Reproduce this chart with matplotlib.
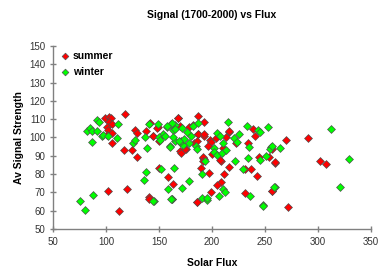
import matplotlib
matplotlib.use("Agg")
import matplotlib.pyplot as plt

plt.rcParams.update({
    "font.family": ["Liberation Sans", "DejaVu Sans"],
    "font.size": 7,
})

# summer points (solar flux, average signal)
summer_flux = [117.9, 99, 102.8, 104.4, 103, 105.3, 100.6, 102.2, 105.3, 101, 106,
               117, 124.2, 129.6, 127.4, 129, 137.7, 144, 148.8, 150, 150.3, 158.8,
               162.9, 102.2, 120, 140.9, 140.9, 112, 168, 167.6, 186.8, 192.7, 169.8,
               178.3, 187, 192.7, 216.3, 213.2, 203.8, 198, 199, 196.5, 183, 186,
               175.5, 169.8, 210.7, 222.6, 233.7, 238.9, 240.6, 191.8, 192.3, 208.2,
               244.6, 254, 259.4, 189.3, 216, 230.8, 236.8, 197.5, 211.6, 242.2,
               208.5, 204.4, 199, 231.1, 256.3, 186.2, 290.8, 269.8, 257, 259.4,
               301.9, 307.3, 256.3, 272, 141.5, 148.4, 144, 169.8, 174.5, 170.5,
               186.5, 192.5, 199.7, 191.2, 191.6, 207.5, 216.3, 181.8, 185.6]
summer_signal = [112.7, 110.5, 111.4, 110.5, 108.6, 107.2, 105.9, 104.1, 102.3, 101.5, 96.8,
                 93.2, 93.2, 89.2, 104.1, 102.3, 103.7, 101, 105.9, 97.9, 83.2, 78.3,
                 74.6, 70.8, 71.9, 67.7, 66.2, 60, 110.5, 110.5, 111.7, 108.3, 106.3,
                 105.9, 101.8, 100.8, 103, 100.4, 99.6, 98.6, 97.4, 95.4, 96.8, 98,
                 93.6, 92.6, 94.4, 96.8, 96.8, 104.6, 100.8, 89, 88.3, 87.3,
                 89.5, 89.2, 86.2, 83.2, 84, 82.6, 82.6, 80.8, 80, 79.1,
                 75.9, 74, 70.4, 69.5, 70.8, 64.9, 99.9, 98.6, 93.5, 86.4,
                 87.2, 85.5, 70.8, 61.9, 107.8, 105.4, 100.8, 97.4, 93.7, 91.4,
                 101.8, 101.8, 90.8, 89.5, 87.2, 87.7, 103.6, 106.8, 64.8]

# winter points
winter_flux = [91.2, 93.7, 81.8, 85, 87, 92, 96, 97.5, 86.8, 111.6, 110.7, 101.5,
               125.7, 127.2, 139, 136.8, 140.9, 148.8, 157.2, 161, 165, 163, 154,
               150.3, 155.5, 151, 160.4, 165, 151.5, 164.4, 137.7, 135.8, 158.8,
               145.3, 162.5, 88, 75.5, 80.2, 248.4, 195.6, 144.6, 162, 162.5,
               186.5, 182, 214.8, 232.7, 243.1, 245.3, 253.1, 204.4, 207.5, 210,
               225.8, 221, 224, 235.2, 255.7, 254.8, 163.5, 170, 173, 171, 160.4,
               184.9, 185.5, 202.2, 193.4, 221.7, 233.7, 245.3, 251, 229.5, 178.6,
               171.4, 190.7, 210, 206.8, 212.6, 190.8, 195.7, 235.8, 259.4, 247.8,
               161.7, 312, 264.2, 256.3, 329.2, 258.8, 321, 158, 165.5, 172, 176,
               180, 174, 169, 178, 202, 205, 209, 213]
winter_signal = [109.6, 108.2, 103.7, 105, 103.7, 103.7, 100.8, 101.5, 97.7, 107.4, 99.5, 101,
                 96.8, 98.6, 94, 100.1, 107.4, 107.2, 105.9, 107.2, 107, 104, 101.8,
                 100.1, 101, 98.5, 95.2, 98, 83, 83.2, 81, 76.8, 71.9,
                 65.5, 66.2, 68.6, 65.1, 60.4, 63, 65.8, 65.1, 66.4, 108,
                 107.8, 106, 108.6, 106.5, 104.1, 103.1, 105.9, 102.6, 101, 97.2,
                 101.8, 99.5, 97.6, 95, 95, 93.6, 100.4, 97.5, 96, 98, 95,
                 95.4, 93.6, 94.4, 87.3, 87.3, 89, 87.7, 89.8, 82.6, 76.2,
                 72.6, 80, 71.7, 68, 70, 67.1, 66.7, 68, 73.1, 62.7,
                 66.2, 104.5, 94.4, 95.4, 88.4, 73.1, 73.1, 106, 104.5, 105, 103,
                 101, 99, 98, 97, 92, 90.5, 91.5, 93]

fig = plt.figure(figsize=(3.81, 2.69), dpi=100)
ax = fig.add_axes([0.139, 0.149, 0.835, 0.68])

edge = "#505050"
ax.scatter(summer_flux, summer_signal, marker="D", s=16, c="#ff0000",
           edgecolors=edge, linewidths=0.5, label="summer", zorder=3)
ax.scatter(winter_flux, winter_signal, marker="D", s=16, c="#00ff00",
           edgecolors=edge, linewidths=0.5, label="winter", zorder=3)

ax.set_xlim(50, 350)
ax.set_ylim(50, 150)
ax.set_xticks(range(50, 351, 50))
ax.set_yticks(range(50, 151, 10))

for side in ("top", "right"):
    ax.spines[side].set_visible(False)
for side in ("left", "bottom"):
    ax.spines[side].set_color("#808080")
    ax.spines[side].set_linewidth(1.0)
ax.tick_params(direction="inout", length=5, width=1, color="#808080",
               labelsize=7, labelcolor="#333333", pad=3)

ax.set_title("Signal (1700-2000) vs Flux", fontsize=7.5, fontweight="bold", pad=20)
ax.set_xlabel("Solar Flux", fontsize=7.5, fontweight="bold", labelpad=8)
ax.set_ylabel("Av Signal Strength", fontsize=7.5, fontweight="bold", labelpad=4)

leg = ax.legend(loc="upper left", frameon=False,
                prop={"weight": "bold", "size": 7.5},
                handletextpad=0.15, borderaxespad=0.0, labelspacing=0.55,
                handlelength=1.2, markerscale=0.85, bbox_to_anchor=(0.005, 0.995))

fig.savefig("out.png", dpi=100)
